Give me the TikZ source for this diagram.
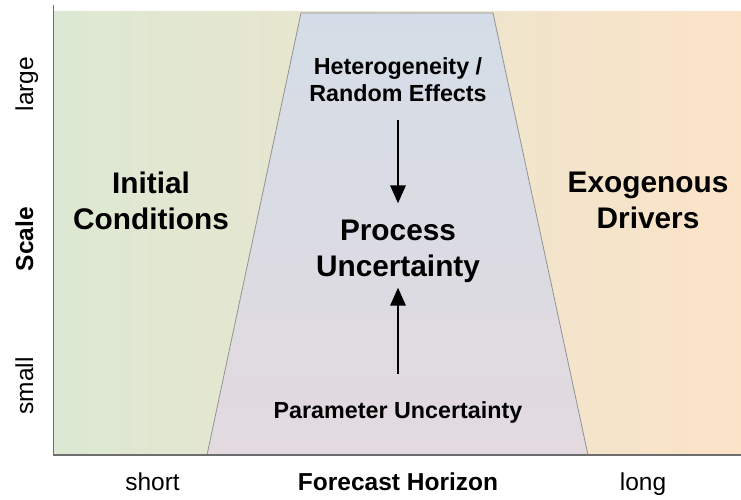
\documentclass[tikz,border=0pt]{standalone}
\usepackage{fontspec}
\setmainfont{Liberation Sans}
\usetikzlibrary{arrows.meta}
\definecolor{fondoizq}{HTML}{DCE8D3}
\definecolor{fondoder}{HTML}{FBE3C8}
\definecolor{trapsup}{HTML}{D4DDE7}
\definecolor{trapinf}{HTML}{E2DADF}
\definecolor{ejegris}{HTML}{6E6E6E}
\tikzset{
  titulo/.style={font=\fontsize{29.8}{36}\selectfont\bfseries, align=center, inner sep=0pt},
  subtitulo/.style={font=\fontsize{23.3}{27.7}\selectfont\bfseries, align=center, inner sep=0pt},
  eje/.style={font=\fontsize{24.5}{28}\selectfont, inner sep=0pt, anchor=base},
  ejenegrita/.style={eje, font=\fontsize{24.5}{28}\selectfont\bfseries},
  flecha/.style={-{Triangle[length=18pt,width=15pt]}, line width=2.8pt},
}
\begin{document}
\begin{tikzpicture}[x=1pt,y=1pt]
    \useasboundingbox (0,0) rectangle (741,499);

    % Coordenadas clave
    \coordinate (O) at (53.3,44);
    \coordinate (Xfin) at (741,44);
    \coordinate (Yfin) at (53.3,494);
    \coordinate (TI) at (207,44);
    \coordinate (TA) at (301,486);
    \coordinate (TB) at (493,486);
    \coordinate (TD) at (588,44);

    % Fondo
    \shade[left color=fondoizq, right color=fondoder] (54,44) rectangle (741,487);

    % Trapecio central
    \shadedraw[top color=trapsup, bottom color=trapinf, draw=gray!85, line width=0.8pt]
      (TI) -- (TA) -- (TB) -- (TD) -- cycle;

    % Ejes
    \draw[ejegris, line width=1.6pt] (Yfin) -- (O) -- (Xfin);

    % Etiquetas de los ejes
    \node[eje] (corto) at (152.5,9) {short};
    \node[ejenegrita] (horizonte) at (398,9) {Forecast Horizon};
    \node[eje] (largo) at (643,9) {long};
    \node[eje, rotate=90] (grande) at (33,415) {large};
    \node[ejenegrita, rotate=90] (escala) at (33,260) {Scale};
    \node[eje, rotate=90] (pequeno) at (33,113) {small};

    % Fuentes de incertidumbre
    \node[titulo] (inicial) at (151,298.3) {Initial\\Conditions};
    \node[titulo] (exogeno) at (648,298.5) {Exogenous\\Drivers};
    \node[titulo] (proceso) at (398,248) {Process\\Uncertainty};
    \node[subtitulo] (hetero) at (398,419.2) {Heterogeneity /\\Random Effects};
    \node[subtitulo] (parametro) at (398,86.4) {Parameter Uncertainty};

    % Flechas hacia el proceso
    \draw[flecha, shorten <=18pt, shorten >=16pt] (hetero) -- (proceso);
    \draw[flecha, shorten <=28pt, shorten >=5pt] (parametro) -- (proceso);
\end{tikzpicture}
\end{document}
